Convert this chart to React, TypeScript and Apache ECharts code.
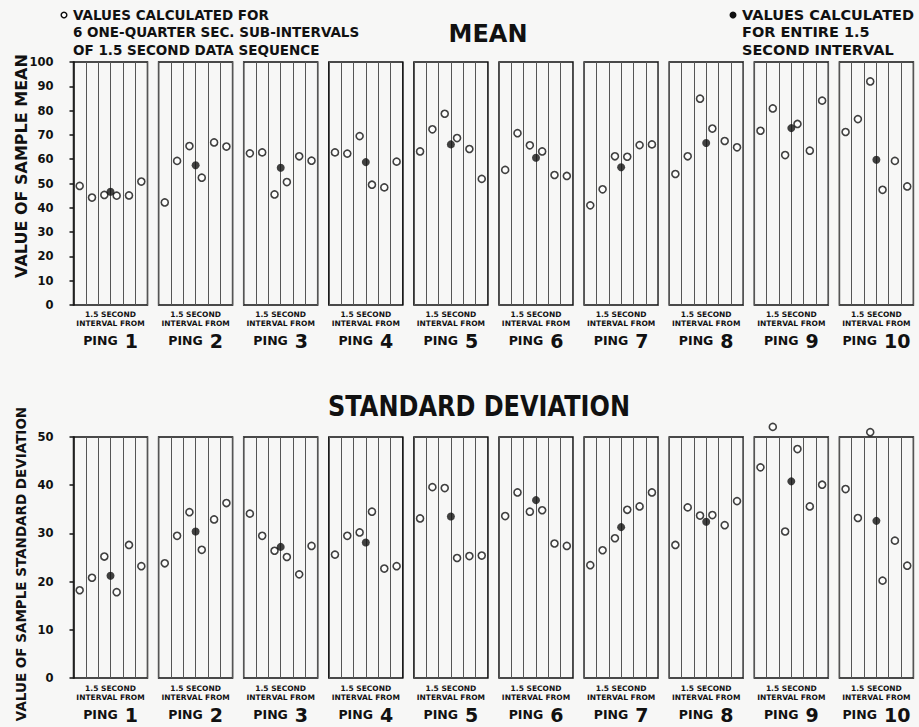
import React, { useEffect, useRef } from "react";
import * as echarts from "echarts";

const PINGS = ["1", "2", "3", "4", "5", "6", "7", "8", "9", "10"];

// Mean: values for 6 one-quarter second sub-intervals (per ping)
const MEAN_SUB: number[][] = [
  [49.0, 44.2, 45.3, 45.0, 45.1, 50.8],
  [42.2, 59.3, 65.4, 52.4, 66.9, 65.2],
  [62.4, 62.8, 45.5, 50.6, 61.2, 59.4],
  [62.8, 62.3, 69.5, 49.5, 48.4, 59.0],
  [63.2, 72.3, 78.7, 68.7, 64.2, 51.9],
  [55.6, 70.7, 65.7, 63.2, 53.5, 53.1],
  [41.0, 47.6, 61.2, 61.0, 65.8, 66.1],
  [53.9, 61.2, 84.9, 72.6, 67.5, 64.9],
  [71.7, 80.9, 61.7, 74.5, 63.5, 84.1],
  [71.2, 76.5, 92.0, 47.4, 59.3, 48.8],
];
// Mean: value for entire 1.5 second interval
const MEAN_ALL = [46.6, 57.5, 56.5, 58.8, 66.1, 60.6, 56.7, 66.7, 72.8, 59.8];

// Standard deviation: sub-intervals
const SD_SUB: number[][] = [
  [18.2, 20.8, 25.2, 17.8, 27.6, 23.2],
  [23.8, 29.5, 34.4, 26.6, 32.9, 36.3],
  [34.1, 29.5, 26.4, 25.1, 21.5, 27.4],
  [25.6, 29.5, 30.2, 34.5, 22.7, 23.2],
  [33.1, 39.6, 39.4, 24.9, 25.3, 25.4],
  [33.6, 38.5, 34.5, 34.8, 27.9, 27.4],
  [23.4, 26.5, 29.0, 34.9, 35.6, 38.5],
  [27.6, 35.4, 33.7, 33.8, 31.7, 36.7],
  [43.7, 52.1, 30.4, 47.5, 35.6, 40.1],
  [39.2, 33.2, 51.0, 20.2, 28.5, 23.3],
];
const SD_ALL = [21.2, 30.4, 27.2, 28.1, 33.5, 36.9, 31.3, 32.4, 40.8, 32.6];

const SUB_X = [0.5, 1.5, 2.5, 3.5, 4.5, 5.5];
const ALL_X = 3;

const MEAN_AXIS = { min: 0, max: 100, interval: 10 };
const SD_AXIS = { min: 0, max: 50, interval: 10 };

const FONT = "DejaVu Sans";
const INK = "#111";

export default function App() {
  const ref = useRef<HTMLDivElement>(null);

  useEffect(() => {
    if (!ref.current) return;
    const chart = echarts.init(ref.current, undefined, { renderer: "svg" });

    const rows = [
      { top: 62, height: 243, axis: MEAN_AXIS, sub: MEAN_SUB, all: MEAN_ALL },
      { top: 437, height: 241, axis: SD_AXIS, sub: SD_SUB, all: SD_ALL },
    ];

    const grid: any[] = [];
    const xAxis: any[] = [];
    const yAxis: any[] = [];
    const series: any[] = [];

    rows.forEach((row, r) => {
      PINGS.forEach((p, i) => {
        const idx = r * PINGS.length + i;
        grid.push({
          left: 73.5 + i * 85.1,
          top: row.top,
          width: 74,
          height: row.height,
          show: true,
          borderColor: INK,
          borderWidth: 1.5,
          backgroundColor: "transparent",
        });
        xAxis.push({
          gridIndex: idx,
          type: "value",
          min: 0,
          max: 6,
          interval: 1,
          axisLine: { show: false },
          axisTick: { show: false },
          axisLabel: { show: false },
          splitLine: { show: true, lineStyle: { color: "#555", width: 1 } },
          name: `{s|1.5 SECOND}\n{s|INTERVAL FROM}\n{p|PING}{n|${p}}`,
          nameLocation: "middle",
          nameGap: r === 0 ? 4.5 : 5.5,
          nameTextStyle: {
            color: INK,
            fontFamily: FONT,
            fontWeight: "bold",
            rich: {
              s: { fontSize: 7.5, lineHeight: 9, fontFamily: FONT, fontWeight: "bold", color: INK },
              p: { fontSize: 12.5, lineHeight: 26, fontFamily: FONT, fontWeight: "bold", color: INK },
              n: {
                fontSize: 19,
                lineHeight: 26,
                fontFamily: FONT,
                fontWeight: "bold",
                color: INK,
                padding: [0, 0, 0, 7],
              },
            },
          },
        });
        yAxis.push({
          gridIndex: idx,
          type: "value",
          min: row.axis.min,
          max: row.axis.max,
          interval: row.axis.interval,
          show: i === 0,
          offset: 13,
          axisLine: { show: true, lineStyle: { color: INK, width: 1.5 } },
          axisTick: { show: true, length: 4, lineStyle: { color: INK, width: 1.5 } },
          axisLabel: {
            show: true,
            margin: 7,
            color: INK,
            fontFamily: FONT,
            fontWeight: "bold",
            fontSize: 11.5,
          },
          splitLine: { show: false },
        });
        series.push({
          type: "scatter",
          xAxisIndex: idx,
          yAxisIndex: idx,
          clip: false,
          symbol: "circle",
          symbolSize: 7,
          itemStyle: { color: "#fff", borderColor: INK, borderWidth: 1.6 },
          data: row.sub[i].map((v, k) => [SUB_X[k], v]),
          z: 3,
        });
        series.push({
          type: "scatter",
          xAxisIndex: idx,
          yAxisIndex: idx,
          clip: false,
          symbol: "circle",
          symbolSize: 8,
          itemStyle: { color: INK },
          data: [[ALL_X, row.all[i]]],
          z: 4,
        });
      });
    });

    const textStyle = (extra: any) => ({
      fill: INK,
      fontFamily: FONT,
      fontWeight: "bold",
      ...extra,
    });

    const graphic: any[] = [
      {
        type: "circle",
        shape: { cx: 64, cy: 15, r: 2.8 },
        style: { fill: "#fff", stroke: INK, lineWidth: 1.5 },
      },
      {
        type: "text",
        x: 73,
        y: 6,
        style: textStyle({
          text: "VALUES CALCULATED FOR\n6 ONE-QUARTER SEC. SUB-INTERVALS\nOF 1.5 SECOND DATA SEQUENCE",
          fontSize: 13.5,
          lineHeight: 17.5,
          align: "left",
          verticalAlign: "top",
        }),
      },
      {
        type: "circle",
        shape: { cx: 733, cy: 15, r: 3.5 },
        style: { fill: INK },
      },
      {
        type: "text",
        x: 742,
        y: 6,
        style: textStyle({
          text: "VALUES CALCULATED\nFOR ENTIRE 1.5\nSECOND INTERVAL",
          fontSize: 14.5,
          lineHeight: 17.5,
          align: "left",
          verticalAlign: "top",
        }),
      },
      {
        type: "text",
        x: 488,
        y: 33,
        scaleY: 1.05,
        style: textStyle({ text: "MEAN", fontSize: 24, align: "center", verticalAlign: "middle" }),
      },
      {
        type: "text",
        x: 479,
        y: 406,
        scaleY: 1.2,
        style: textStyle({
          text: "STANDARD DEVIATION",
          fontSize: 24,
          align: "center",
          verticalAlign: "middle",
        }),
      },
      {
        type: "text",
        x: 21,
        y: 166,
        rotation: Math.PI / 2,
        style: textStyle({
          text: "VALUE OF SAMPLE MEAN",
          fontSize: 16,
          align: "center",
          verticalAlign: "middle",
        }),
      },
      {
        type: "text",
        x: 21,
        y: 564,
        rotation: Math.PI / 2,
        style: textStyle({
          text: "VALUE OF SAMPLE STANDARD DEVIATION",
          fontSize: 13.5,
          align: "center",
          verticalAlign: "middle",
        }),
      },
    ];

    chart.setOption({
      animation: false,
      backgroundColor: "#f7f7f6",
      grid,
      xAxis,
      yAxis,
      series,
      graphic,
    });

    return () => chart.dispose();
  }, []);

  return (
    <div
      ref={ref}
      style={{ position: "fixed", left: 0, top: 0, width: 919, height: 727 }}
    />
  );
}
